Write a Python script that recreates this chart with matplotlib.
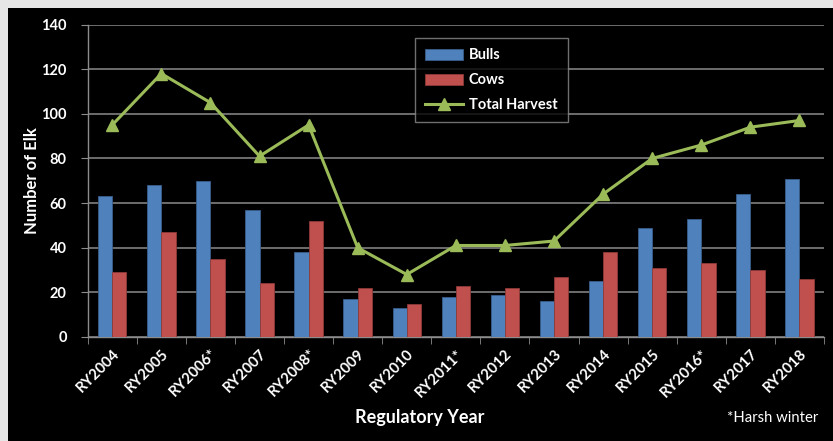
import matplotlib
matplotlib.use("Agg")
import matplotlib.pyplot as plt
import numpy as np
from matplotlib.patches import Rectangle

years = ["RY2004", "RY2005", "RY2006*", "RY2007", "RY2008*", "RY2009", "RY2010",
         "RY2011*", "RY2012", "RY2013", "RY2014", "RY2015", "RY2016*", "RY2017", "RY2018"]
bulls = [63, 68, 70, 57, 38, 17, 13, 18, 19, 16, 25, 49, 53, 64, 71]
cows = [29, 47, 35, 24, 52, 22, 15, 23, 22, 27, 38, 31, 33, 30, 26]
total = [95, 118, 105, 81, 95, 40, 28, 41, 41, 43, 64, 80, 86, 94, 97]
yticks = [0, 20, 40, 60, 80, 100, 120, 140]

plt.rcParams['font.family'] = ['Lato', 'DejaVu Sans']

W, H = 833, 441
fig = plt.figure(figsize=(W / 100, H / 100), dpi=100)
fig.patch.set_facecolor('#e6e6e6')
fig.patches.append(Rectangle((8 / W, 0), 1 - 8 / W, (H - 8) / H, transform=fig.transFigure,
                             facecolor='black', edgecolor='none', zorder=-10))

ax = fig.add_axes([87.7 / W, (H - 337) / H, (824 - 87.7) / W, (337 - 24.5) / H])
ax.set_facecolor('black')

x = np.arange(len(years))
w = 0.29
b1 = ax.bar(x - w / 2, bulls, w, color='#4F81BD', edgecolor='#3a5f8c', linewidth=0.6, label='Bulls', zorder=3)
b2 = ax.bar(x + w / 2, cows, w, color='#C0504D', edgecolor='#8e3b39', linewidth=0.6, label='Cows', zorder=3)
ln, = ax.plot(x, total, color='#9BBB59', linewidth=2.2, marker='^', markersize=9,
              label='Total Harvest', zorder=4)

ax.set_xlim(-0.5, len(years) - 0.5)
ax.set_ylim(0, 140)
ax.set_yticks(yticks)
ax.yaxis.grid(True, color='#808080', linewidth=1.2, zorder=1)
ax.set_axisbelow(True)

for s in ['top', 'right']:
    ax.spines[s].set_visible(False)
for s in ['left', 'bottom']:
    ax.spines[s].set_color('#8c8c8c')
    ax.spines[s].set_linewidth(1.0)

ax.set_xticks(x)
ax.set_xticklabels(years, rotation=45, ha='right', rotation_mode='anchor',
                   fontsize=10.8, fontweight='bold', color='white')
ax.tick_params(axis='x', which='major', length=0, pad=7)
ax.set_xticks(np.arange(-0.5, len(years), 1), minor=True)
ax.tick_params(axis='x', which='minor', length=5, color='#8c8c8c')
ax.tick_params(axis='y', length=5, color='#8c8c8c', labelsize=10.5, labelcolor='white', pad=10)
for t in ax.get_yticklabels():
    t.set_fontweight('bold')

ax.set_ylabel('Number of Elk', fontsize=12, fontweight='bold', color='white', labelpad=1)

fig.text(420 / W, 1 - 418 / H, 'Regulatory Year', ha='center', va='center',
         fontsize=13, fontweight='bold', color='white')
fig.text(773 / W, 1 - 418 / H, '*Harsh winter', ha='center', va='center',
         fontsize=10.7, color='white')

leg = ax.legend([b1, b2, ln], ['Bulls', 'Cows', 'Total Harvest'],
                loc='upper left', bbox_to_anchor=((415 - 87.7) / (824 - 87.7), (337 - 38) / (337 - 24.5)),
                frameon=True, facecolor='black', edgecolor='#8c8c8c', fancybox=False,
                fontsize=10.5, labelcolor='white', handlelength=2.6, handleheight=0.8,
                handletextpad=0.4, borderpad=0.7, labelspacing=0.75, borderaxespad=0)
leg.get_frame().set_linewidth(1.0)
for t in leg.get_texts():
    t.set_fontweight('bold')

fig.savefig('out.png', dpi=100, facecolor=fig.get_facecolor())
